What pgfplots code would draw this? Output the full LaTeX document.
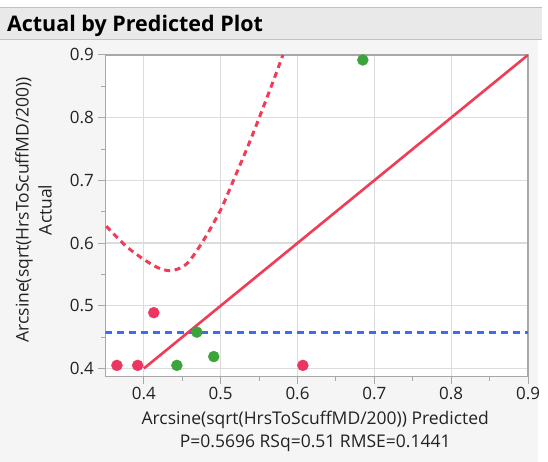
\documentclass[border=0pt]{standalone}
\usepackage{fontspec}
\setmainfont{Open Sans}
\usepackage{pgfplots}
\pgfplotsset{compat=1.18}
\pgfdeclarelayer{bg}
\pgfsetlayers{bg,main}
\definecolor{ptred}{HTML}{EC3560}
\definecolor{ptgreen}{HTML}{3DA33D}
\definecolor{fitred}{HTML}{F03C55}
\definecolor{meanblue}{HTML}{3A6CF4}
\definecolor{gridgray}{HTML}{DCDCDC}
\definecolor{axgray}{HTML}{A8A8A8}
\definecolor{panel}{HTML}{F5F5F5}
\definecolor{titlebar}{HTML}{E9E9E9}
\definecolor{txt}{HTML}{222222}
\begin{document}
\begin{tikzpicture}[x=1pt,y=1pt]
\begin{axis}[
  scale only axis, width=423pt, height=322pt,
  xmin=0.35, xmax=0.9, ymin=0.387, ymax=0.9,
  axis background/.style={fill=white},
  xtick={0.4,0.5,0.6,0.7,0.8,0.9},
  ytick={0.4,0.5,0.6,0.7,0.8,0.9},
  minor x tick num=1, minor y tick num=1,
  xtick pos=left, ytick pos=left,
  tick align=outside,
  major tick length=7pt, minor tick length=4pt,
  every tick/.style={axgray,line width=0.9pt},
  grid=major,
  major grid style={gridgray,line width=1.3pt},
  axis line style={axgray,line width=1.2pt},
  tick label style={font=\fontsize{17}{20}\selectfont,text=txt},
  /pgf/number format/assume math mode=true,
  /pgf/number format/fixed,
  /pgf/number format/precision=1,
  /pgf/number format/fixed zerofill,
  xticklabel style={yshift=0pt},
  yticklabel style={xshift=-1pt},
  clip=true,
]
\coordinate (o) at (rel axis cs:0,0);
% mean of the response
\addplot[meanblue,line width=2.6pt,dash pattern=on 7pt off 5pt]
  coordinates {(0.35,0.457) (0.9,0.457)};
% fitted line
\addplot[fitred,line width=2.6pt] coordinates {(0.4,0.4) (0.9,0.9)};
% confidence curve
\addplot[fitred,line width=3pt,dash pattern=on 6pt off 4.5pt,smooth]
  coordinates {
  (0.351,0.627) (0.377,0.595) (0.400,0.574) (0.418,0.561) (0.433,0.556)
  (0.447,0.560) (0.459,0.571) (0.478,0.605) (0.500,0.653) (0.517,0.701)
  (0.537,0.759) (0.554,0.812) (0.569,0.860) (0.581,0.900)};
% observations
\addplot[only marks,mark=*,mark size=5.5pt,ptred,mark options={draw=none,fill=ptred}]
  coordinates {(0.365,0.405) (0.392,0.405) (0.413,0.489) (0.607,0.405)};
\addplot[only marks,mark=*,mark size=5.5pt,ptgreen,mark options={draw=none,fill=ptgreen}]
  coordinates {(0.443,0.405) (0.469,0.458) (0.491,0.419) (0.685,0.892)};
\end{axis}
% page background and report frame, placed from the plot's lower left corner
\begin{pgfonlayer}{bg}
\begin{scope}[shift={(o)},xshift=-105pt,yshift=-85pt]
\fill[white] (0,0) rectangle (548,462);
\fill[panel] (0,0) rectangle (538,422);
\fill[titlebar] (0,422) rectangle (542,454);
\draw[axgray!70,line width=1pt] (0,422) -- (542,422);
\draw[axgray!70,line width=1pt] (0,454) -- (542,454);
\end{scope}
\end{pgfonlayer}
\begin{scope}[shift={(o)},xshift=-105pt,yshift=-85pt]
\node[anchor=base west,font=\bfseries\fontsize{21.5}{24}\selectfont,text=black] at (3,430) {Actual by Predicted Plot};
% axis titles
\node[rotate=90,align=center,font=\fontsize{17.5}{23}\selectfont,text=txt] at (33,252)
  {Arcsine(sqrt(HrsToScuffMD/200))\\Actual};
\node[align=center,font=\fontsize{17.5}{23}\selectfont,text=txt] at (315,30)
  {Arcsine(sqrt(HrsToScuffMD/200)) Predicted\\P=0.5696 RSq=0.51 RMSE=0.1441};
\end{scope}
\end{tikzpicture}
\end{document}
